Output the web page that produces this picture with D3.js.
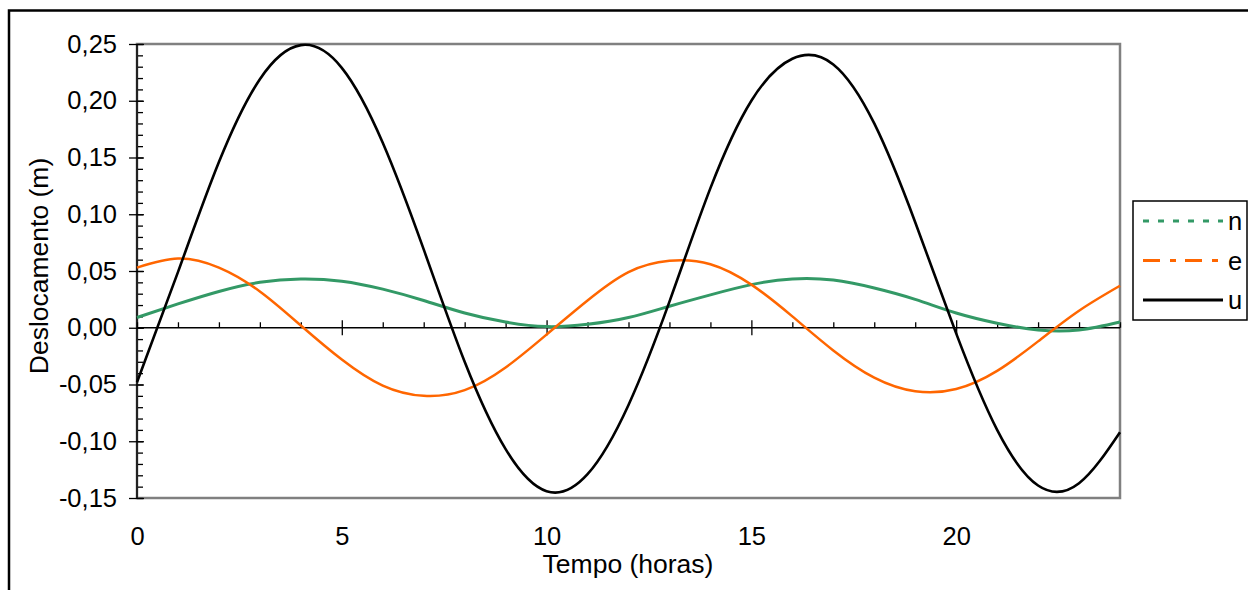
<!DOCTYPE html>
<html>
<head>
<meta charset="utf-8">
<script src="https://cdn.jsdelivr.net/npm/d3@7"></script>
<style>
  body { margin: 0; background: #fff; }
  svg text { font-family: "Liberation Sans", Arial, sans-serif; fill: #000; }
</style>
</head>
<body>
<svg id="chart"></svg>
<script>
// hours
let hours = [0,1,2,3,4,5,6,7,8,9,10,11,12,13,14,15,16,17,18,19,20,21,22,23,24]

// displacement (m)
let nValues = [0.009,0.021,0.032,0.040,0.043,0.041,0.034,0.024,0.013,0.005,0.001,0.003,0.009,0.019,0.029,0.038,0.043,0.042,0.035,0.025,0.013,0.004,-0.002,-0.002,0.005]
let eValues = [0.053,0.061,0.053,0.032,0.002,-0.028,-0.051,-0.060,-0.055,-0.035,-0.006,0.024,0.049,0.059,0.056,0.038,0.010,-0.020,-0.044,-0.056,-0.054,-0.038,-0.012,0.015,0.037]
let uValues = [-0.048,0.049,0.146,0.219,0.249,0.229,0.163,0.069,-0.030,-0.107,-0.144,-0.129,-0.068,0.023,0.123,0.200,0.237,0.232,0.180,0.093,-0.005,-0.090,-0.139,-0.137,-0.092]

let yTicks = [-0.15,-0.10,-0.05,0,0.05,0.10,0.15,0.20,0.25]
let xTicks = [0,5,10,15,20]
let seriesNames = ["n","e","u"]
let seriesColors = ["#339966","#ff6600","#000000"]

let svgWidth = 1248
let svgHeight = 590
let plot = {left: 137, top: 44, right: 1120, bottom: 498}

let svg = d3.select("#chart")
  .attr("width", svgWidth)
  .attr("height", svgHeight)

let locale = d3.formatLocale({decimal: ",", thousands: ".", grouping: [3], currency: ["", ""], minus: "-"})
let fmt = locale.format(".2f")

let x = d3.scaleLinear().domain([0, 24]).range([plot.left, plot.right])
let y = d3.scaleLinear().domain([-0.15, 0.25]).range([plot.bottom, plot.top])

// outer frame
svg.append("rect")
  .attr("x", 9).attr("y", 10.5)
  .attr("width", 1300).attr("height", 700)
  .attr("fill", "none").attr("stroke", "#000").attr("stroke-width", 2.5)

// plot border
svg.append("rect")
  .attr("x", plot.left).attr("y", plot.top)
  .attr("width", plot.right - plot.left).attr("height", plot.bottom - plot.top)
  .attr("fill", "none").attr("stroke", "#808080").attr("stroke-width", 2.5)

// y minor ticks
let yMinor = d3.range(-15, 26).map(d => d / 100)
svg.append("g")
  .attr("transform", `translate(${plot.left},0)`)
  .call(d3.axisRight(y).tickValues(yMinor).tickSize(6).tickFormat(""))
  .call(g => g.select(".domain").remove())
  .selectAll("line").attr("stroke", "#000").attr("stroke-width", 1.3)

// y major ticks + labels
let yAxis = svg.append("g")
  .attr("transform", `translate(${plot.left},0)`)
  .call(d3.axisLeft(y).tickValues(yTicks).tickSize(8).tickPadding(12).tickFormat(fmt))
yAxis.select(".domain").attr("stroke", "#222").attr("stroke-width", 2).attr("d", `M0,${plot.top}V${plot.bottom}`)
yAxis.selectAll("line").attr("x2", -8).attr("x1", 7).attr("stroke", "#000").attr("stroke-width", 1.3)
yAxis.selectAll("text").style("font-size", "25.5px").attr("font-family", null)

// zero line with x ticks
let zeroAxis = svg.append("g").attr("transform", `translate(0,${y(0)})`)
zeroAxis.call(d3.axisBottom(x).tickValues(hours).tickSize(-5.5).tickFormat(""))
zeroAxis.select(".domain").attr("stroke", "#000").attr("stroke-width", 1.3).attr("d", `M${plot.left},0H${plot.right}`)
zeroAxis.selectAll("line").attr("stroke", "#000").attr("stroke-width", 1.3)
zeroAxis.selectAll(".tick").filter(d => d % 5 === 0 && d > 0 && d < 24)
  .select("line").attr("y1", -7.5).attr("y2", 7.5)

// x labels below plot
let xAxis = svg.append("g")
  .attr("transform", `translate(0,${plot.bottom})`)
  .call(d3.axisBottom(x).tickValues(xTicks).tickSize(0).tickPadding(29).tickFormat(d3.format("d")))
xAxis.select(".domain").remove()
xAxis.selectAll("text").style("font-size", "25.5px").attr("font-family", null)

// series lines
let allSeries = [nValues, eValues, uValues]
let widths = [3, 2.5, 2.6]
let line = d3.line()
  .x((d, i) => x(hours[i]))
  .y(d => y(d))
  .curve(d3.curveNatural)

allSeries.forEach((vals, k) => {
  svg.append("path")
    .datum(vals)
    .attr("d", line)
    .attr("fill", "none")
    .attr("stroke", seriesColors[k])
    .attr("stroke-width", widths[k])
})

// axis titles
svg.append("text")
  .attr("x", 628).attr("y", 573)
  .attr("text-anchor", "middle")
  .style("font-size", "26.5px")
  .text("Tempo (horas)")

svg.append("text")
  .attr("transform", "translate(48,266) rotate(-90)")
  .attr("text-anchor", "middle")
  .style("font-size", "26.5px")
  .text("Deslocamento (m)")

// legend
let legend = svg.append("g")
legend.append("rect")
  .attr("x", 1133).attr("y", 201).attr("width", 114).attr("height", 119)
  .attr("fill", "#fff").attr("stroke", "#000").attr("stroke-width", 1.5)

let dashes = ["6,9", "17,10,6,9", null]
seriesNames.forEach((name, k) => {
  let ly = 221 + k * 39.5
  legend.append("line")
    .attr("x1", 1143).attr("x2", 1223)
    .attr("y1", ly).attr("y2", ly)
    .attr("stroke", seriesColors[k])
    .attr("stroke-width", 3)
    .attr("stroke-dasharray", dashes[k])
  legend.append("text")
    .attr("x", 1228).attr("y", ly + 9)
    .style("font-size", "25.5px")
    .text(name)
})
</script>
</body>
</html>
